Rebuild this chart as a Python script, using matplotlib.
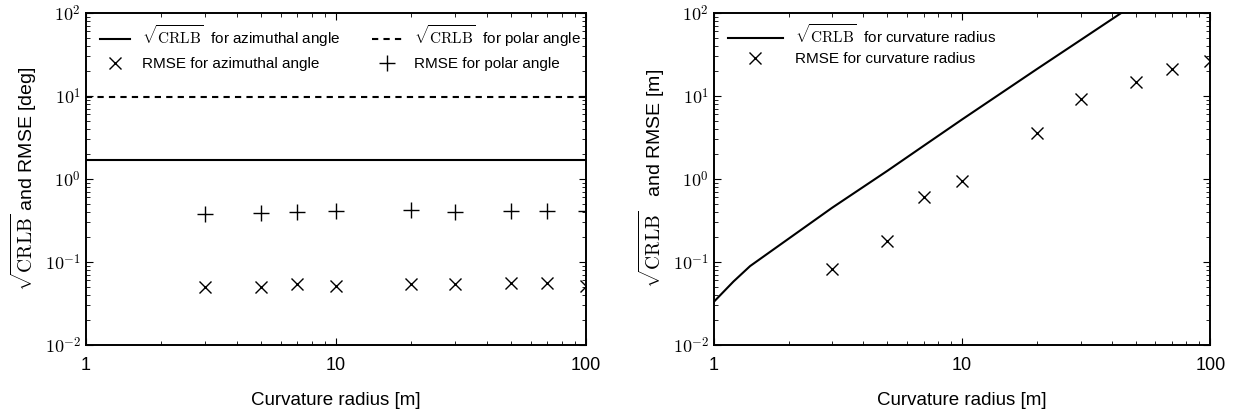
import numpy as np
import matplotlib
matplotlib.use('Agg')
import matplotlib.pyplot as plt
from matplotlib.ticker import FuncFormatter, LogLocator, NullFormatter

plt.rcParams['font.family'] = ['Liberation Sans', 'DejaVu Sans']
plt.rcParams['mathtext.fontset'] = 'cm'

# curvature radii used in the simulations [m]
radius = [3, 5, 7, 10, 20, 30, 50, 70, 100]

# angle estimation (left)
crlb_azimuth = 1.7
crlb_polar = 9.8
rmse_azimuth = [0.0495, 0.050, 0.054, 0.051, 0.054, 0.054, 0.055, 0.055, 0.051]
rmse_polar = [0.38, 0.39, 0.40, 0.41, 0.42, 0.40, 0.41, 0.41, 0.41]

# curvature radius estimation (right)
crlb_r_x = [1, 1.2, 1.4, 2, 3, 5, 7, 10, 20, 30, 50]
crlb_r = [0.033, 0.058, 0.089, 0.19, 0.45, 1.25, 2.5, 5.2, 21, 47, 130]
rmse_r = [0.081, 0.18, 0.60, 0.95, 3.6, 9.1, 14.7, 20.9, 26.3]

sq = r'$\sqrt{\mathrm{CRLB}}$'

fig = plt.figure(figsize=(12.35, 4.16), dpi=100)
ax1 = fig.add_axes([0.0696, 0.171, 0.405, 0.798])
ax2 = fig.add_axes([0.578, 0.171, 0.402, 0.798])


def style(ax):
    ax.set_xscale('log')
    ax.set_yscale('log')
    ax.set_xlim(1, 100)
    ax.set_ylim(1e-2, 1e2)
    ax.xaxis.set_major_formatter(FuncFormatter(lambda v, p: '%g' % v))
    ax.yaxis.set_major_formatter(FuncFormatter(lambda v, p: r'$10^{%d}$' % round(np.log10(v))))
    ax.yaxis.set_major_locator(LogLocator(base=10, numticks=10))
    ax.yaxis.set_minor_locator(LogLocator(base=10, subs=np.arange(2, 10), numticks=10))
    ax.xaxis.set_minor_formatter(NullFormatter())
    ax.yaxis.set_minor_formatter(NullFormatter())
    ax.tick_params(which='both', direction='in', top=True, right=True, labelsize=13)
    ax.tick_params(which='major', length=5, width=0.8)
    ax.tick_params(which='minor', length=3, width=0.6)
    ax.tick_params(axis='x', pad=9)
    for s in ax.spines.values():
        s.set_linewidth(1.4)
    ax.set_xlabel('Curvature radius [m]', fontsize=13.5, labelpad=13)


style(ax1)
ax1.axhline(crlb_azimuth, color='black', lw=1.5, label=sq + '  for azimuthal angle')
ax1.plot(radius, rmse_azimuth, 'x', color='black', ms=9, mew=1.0, label='RMSE for azimuthal angle')
ax1.axhline(crlb_polar, color='black', lw=1.5, ls=(0, (3, 2.5)), label=sq + '  for polar angle')
ax1.plot(radius, rmse_polar, '+', color='black', ms=11, mew=1.0, label='RMSE for polar angle')
ax1.set_ylabel(sq + ' and RMSE [deg]', fontsize=14, labelpad=4)
ax1.legend(loc='upper left', ncol=2, frameon=False, fontsize=11, handlelength=2.0,
           columnspacing=2.0, labelspacing=0.5, bbox_to_anchor=(0.0, 1.01))

style(ax2)
ax2.plot(crlb_r_x, crlb_r, color='black', lw=1.5, label=sq + '  for curvature radius')
ax2.plot(radius, rmse_r, 'x', color='black', ms=9, mew=1.0, label='RMSE for curvature radius')
ax2.set_ylabel(sq + '   and RMSE [m]', fontsize=14, labelpad=4)
ax2.legend(loc='upper left', frameon=False, fontsize=11, handlelength=3.6,
           labelspacing=0.4, bbox_to_anchor=(0.0, 1.01))

fig.savefig('out.png', dpi=100)
